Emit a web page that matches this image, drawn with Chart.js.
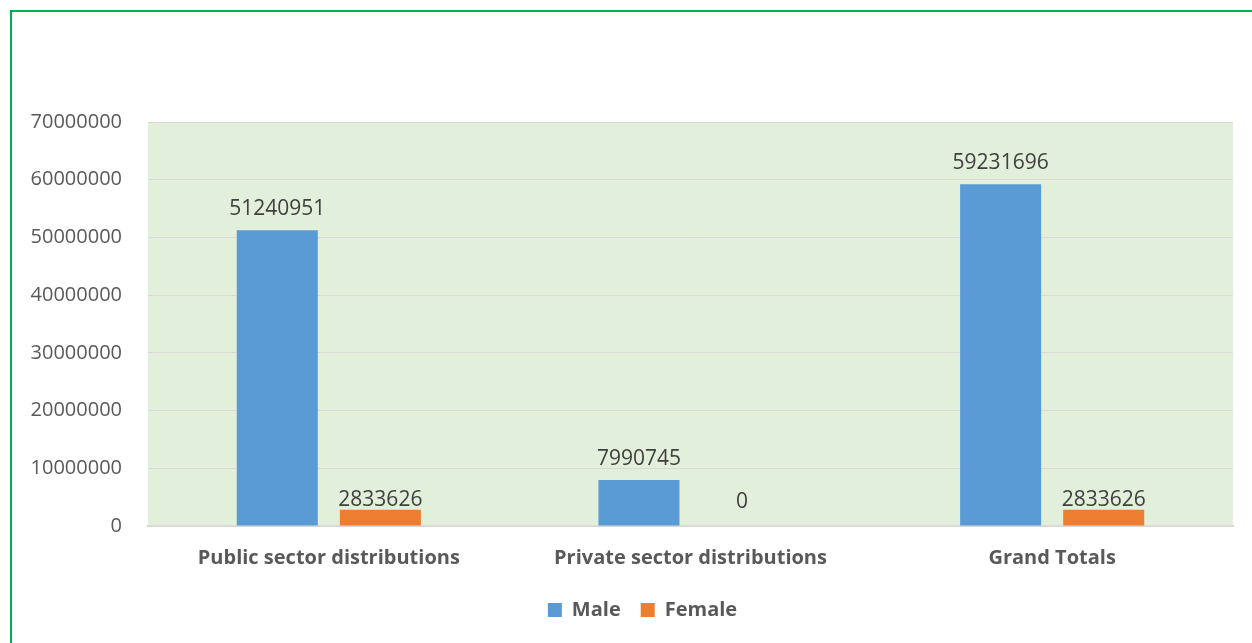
<!DOCTYPE html>
<html>
<head>
<meta charset="utf-8">
<script src="https://cdn.jsdelivr.net/npm/chart.js@4"></script>
<style>
    html, body { margin: 0; padding: 0; background: #fff; overflow: hidden; }
    #frame {
        position: absolute; left: 10px; top: 10px; width: 1400px; height: 800px;
        border-left: 2px solid #00B050; border-top: 2px solid #00B050;
    }
    #wrap { position: absolute; left: 0; top: 0; width: 1252px; height: 643px; }
</style>
</head>
<body>
<div id="frame"></div>
<div id="wrap"><canvas id="chart"></canvas></div>
<script>
const categories = ['Public sector distributions', 'Private sector distributions', 'Grand Totals'];
const maleValues = [51240951, 7990745, 59231696];
const femaleValues = [2833626, 0, 2833626];
const yTicks = [0, 10000000, 20000000, 30000000, 40000000, 50000000, 60000000, 70000000];

const FONT = '"Open Sans", "Liberation Sans", sans-serif';

// light green plot background
const plotBackground = {
    id: 'plotBackground',
    beforeDraw(chart) {
        const { ctx, chartArea } = chart;
        ctx.save();
        ctx.fillStyle = '#E2EFDA';
        ctx.fillRect(chartArea.left, chartArea.top, chartArea.right - chartArea.left, chartArea.bottom - chartArea.top);
        ctx.restore();
    }
};

// nudge the legend so it sits centred under the plot like the original
const legendShift = {
    id: 'legendShift',
    afterLayout(chart) {
        if (chart.legend) {
            chart.legend.left += 26;
            chart.legend.right += 26;
        }
    }
};

// value labels above each bar
const valueLabels = {
    id: 'valueLabels',
    afterDatasetsDraw(chart) {
        const { ctx } = chart;
        ctx.save();
        ctx.font = '21px ' + FONT;
        ctx.fillStyle = '#404040';
        ctx.textAlign = 'center';
        ctx.textBaseline = 'alphabetic';
        chart.data.datasets.forEach((ds, i) => {
            const meta = chart.getDatasetMeta(i);
            meta.data.forEach((bar, j) => {
                const v = ds.data[j];
                const gap = v === 0 ? 18 : (i === 0 ? 15 : 4);
                ctx.fillText(String(v), bar.x, bar.y - gap);
            });
        });
        ctx.restore();
    }
};

new Chart(document.getElementById('chart').getContext('2d'), {
    type: 'bar',
    data: {
        labels: categories,
        datasets: [
            { label: 'Male', data: maleValues, backgroundColor: '#5B9BD5' },
            { label: 'Female', data: femaleValues, backgroundColor: '#ED7D31' }
        ]
    },
    options: {
        responsive: true,
        maintainAspectRatio: false,
        animation: false,
        categoryPercentage: 0.57,
        barPercentage: 0.786,
        layout: { padding: { left: 0, top: 122, right: 19, bottom: 13 } },
        plugins: {
            tooltip: { enabled: false },
            legend: {
                position: 'bottom',
                labels: {
                    boxWidth: 14,
                    boxHeight: 14,
                    padding: 20,
                    color: '#595959',
                    font: { family: FONT, size: 20, weight: 'bold' }
                }
            }
        },
        scales: {
            x: {
                grid: { display: false },
                border: { display: true, color: '#D9D9D9', width: 2 },
                ticks: {
                    color: '#595959',
                    padding: 12,
                    font: { family: FONT, size: 20, weight: 'bold' }
                },
                afterFit(scale) { scale.height = 54; }
            },
            y: {
                min: 0,
                max: 70000000,
                afterBuildTicks(scale) { scale.ticks = yTicks.map(v => ({ value: v })); },
                grid: { color: '#D9D9D9', lineWidth: 1, drawTicks: false },
                border: { display: false },
                ticks: {
                    color: '#595959',
                    padding: 26,
                    font: { family: FONT, size: 20 },
                    callback: v => String(v)
                },
                afterFit(scale) { scale.width = 148; }
            }
        }
    },
    plugins: [plotBackground, legendShift, valueLabels]
});
</script>
</body>
</html>
